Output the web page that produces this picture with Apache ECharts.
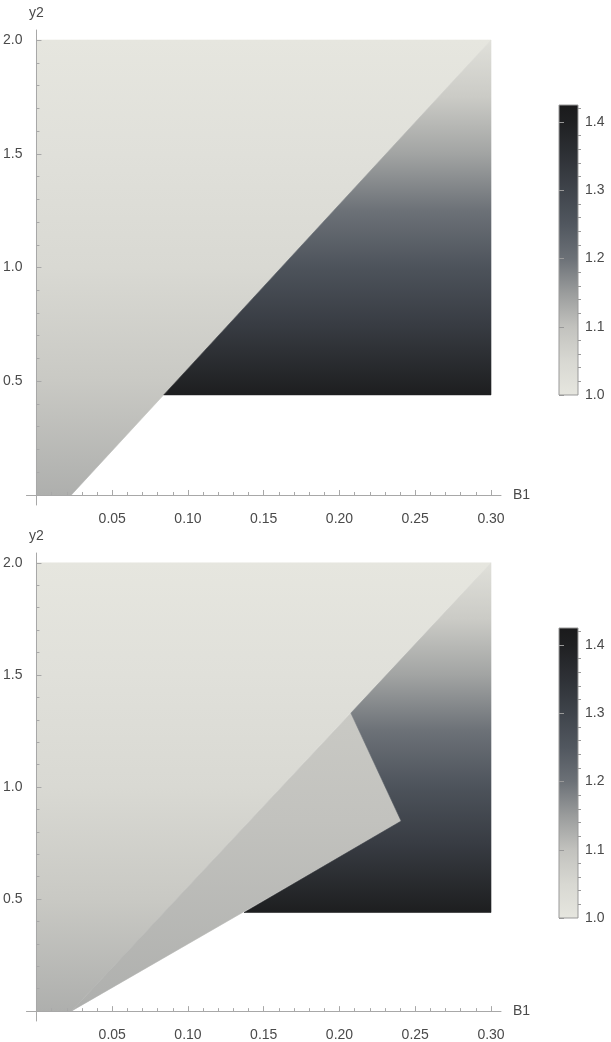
<!DOCTYPE html>
<html><head><meta charset="utf-8">
<script src="https://cdn.jsdelivr.net/npm/echarts@6/dist/echarts.min.js"></script>
<style>html,body{margin:0;padding:0;background:#fff}#c{width:611px;height:1042px}</style>
</head><body><div id="c"></div>
<script>
// ---------- data ----------
const xLabelValues = [0.05, 0.10, 0.15, 0.20, 0.25, 0.30];
const xMinorTicks = [0.01,0.02,0.03,0.04,0.06,0.07,0.08,0.09,0.11,0.12,0.13,0.14,0.16,0.17,0.18,0.19,0.21,0.22,0.23,0.24,0.26,0.27,0.28,0.29];
const yLabelValues = [0.5, 1.0, 1.5, 2.0];
const yMinorTicks = [0.1,0.2,0.3,0.4,0.6,0.7,0.8,0.9,1.1,1.2,1.3,1.4,1.6,1.7,1.8,1.9];
const barLabelValues = [1.0, 1.1, 1.2, 1.3, 1.4];
const barMinorTicks = [1.02,1.04,1.06,1.08,1.12,1.14,1.16,1.18,1.22,1.24,1.26,1.28,1.32,1.34,1.36,1.38,1.42];
const barRange = [1.0, 1.425];

// region polygons (B1, y2)
const leftPoly  = [[0,0],[0.023,0],[0.3,2.0],[0,2.0]];
const darkPolyA = [[0.084,0.44],[0.3,0.44],[0.3,2.0]];
const notchPoly = [[0.023,0],[0.2075,1.33],[0.2407,0.848]];
const darkPolyB = [[0.137,0.44],[0.3,0.44],[0.3,2.0],[0.2075,1.33],[0.2407,0.848]];

// value profiles along y2: [y2, value]
const leftProfile  = [[2.0,1.00],[1.5,1.02],[1.0,1.045],[0.5,1.085],[0.0,1.125]];
const darkProfile  = [[2.0,1.02],[1.75,1.08],[1.5,1.14],[1.25,1.20],[1.0,1.26],[0.75,1.32],[0.44,1.41]];
const notchProfile = [[1.33,1.085],[0.85,1.10],[0.0,1.125]];

// colour scale (value -> colour)
const cmapValues = [1.00, 1.05, 1.10, 1.15, 1.20, 1.25, 1.30, 1.35, 1.40, 1.425];
const cmapColors = ['#e6e6df','#d8d8d2','#c2c2be','#9a9c9c','#6c7177','#51575f','#3f444b','#2e3136','#1f2022','#1a1a1b'];

// ---------- helpers ----------
function hex2rgb(h){return [1,3,5].map(i=>parseInt(h.substr(i,2),16));}
function valueToColor(v){
  if(v<=cmapValues[0]) return cmapColors[0];
  for(let i=1;i<cmapValues.length;i++){
    if(v<=cmapValues[i]){
      const t=(v-cmapValues[i-1])/(cmapValues[i]-cmapValues[i-1]);
      const a=hex2rgb(cmapColors[i-1]), b=hex2rgb(cmapColors[i]);
      const c=a.map((x,k)=>Math.round(x+(b[k]-x)*t));
      return 'rgb('+c.join(',')+')';
    }
  }
  return cmapColors[cmapColors.length-1];
}
const FONT = 'Liberation Sans';
const FS = 14;
const AX = '#a8a8a8';
const LBL = '#4a4a4a';

function regionSeries(xi, yi, regions){
  return {
    type:'custom', xAxisIndex:xi, yAxisIndex:yi, silent:true, clip:false, z:2,
    data: regions.map((r,i)=>[r.poly[0][0], r.poly[0][1], i]),
    renderItem:(params, api)=>{
      const r = regions[params.dataIndex];
      const pts = r.poly.map(p=>api.coord(p));
      const yTop = api.coord([0, r.profile[0][0]])[1];
      const yBot = api.coord([0, r.profile[r.profile.length-1][0]])[1];
      const stops = r.profile.map(([yy,v])=>({offset:(api.coord([0,yy])[1]-yTop)/(yBot-yTop), color:valueToColor(v)}));
      const grad = {type:'linear', x:0, y:yTop, x2:0, y2:yBot, global:true, colorStops:stops};
      return {type:'polygon', shape:{points:pts}, style:{fill:grad, stroke:grad, lineWidth:0.6}};
    }
  };
}
function barSeries(xi, yi){
  return {
    type:'custom', xAxisIndex:xi, yAxisIndex:yi, silent:true, clip:false,
    data:[[0, barRange[0]]],
    renderItem:(params, api)=>{
      const p0 = api.coord([0, barRange[0]]), p1 = api.coord([1, barRange[1]]);
      return {type:'rect', shape:{x:p0[0], y:p1[1], width:p1[0]-p0[0], height:p0[1]-p1[1]},
        style:{fill:{type:'linear',x:0,y:1,x2:0,y2:0,colorStops:cmapValues.map(v=>({offset:(Math.min(v,barRange[1])-barRange[0])/(barRange[1]-barRange[0]),color:valueToColor(v)}))}, stroke:'#999', lineWidth:1}};
    }
  };
}

const XMIN=-0.0066, XMAX=0.3066, YMIN=-0.044, YMAX=2.044;
function plotX(grid, major){
  return {
    type:'value', gridIndex:grid, min:XMIN, max:XMAX, position:'bottom', z:5,
    axisLine:{show:true, onZero:true, lineStyle:{color: major?AX:'transparent', width:1}},
    axisTick:{show:true, inside:true, length: major?5:3, customValues: major?xLabelValues:xMinorTicks, lineStyle:{color:AX}},
    axisLabel: major ? {show:true, customValues:xLabelValues, formatter:v=>v.toFixed(2), margin:7, color:LBL, fontSize:FS, fontFamily:FONT} : {show:false},
    splitLine:{show:false},
    name: major?'B1':'', nameLocation:'end', nameGap:12,
    nameTextStyle:{color:LBL, fontSize:FS, fontFamily:FONT}
  };
}
function plotY(grid, major){
  return {
    type:'value', gridIndex:grid, min:YMIN, max:YMAX, position:'left', z:5,
    axisLine:{show:true, onZero:true, lineStyle:{color: major?AX:'transparent', width:1}},
    axisTick:{show:true, inside:true, length: major?5:3, customValues: major?yLabelValues:yMinorTicks, lineStyle:{color:AX}},
    axisLabel: major ? {show:true, customValues:yLabelValues, formatter:v=>v.toFixed(1), margin:4, color:LBL, fontSize:FS, fontFamily:FONT} : {show:false},
    splitLine:{show:false},
    name: major?'y2':'', nameLocation:'end', nameGap:10,
    nameTextStyle:{color:LBL, fontSize:FS, fontFamily:FONT}
  };
}
function barX(grid){
  return {type:'value', gridIndex:grid, min:0, max:1, show:false};
}
function barY(grid, major){
  return {
    type:'value', gridIndex:grid, min:barRange[0], max:barRange[1], position:'right', z:5,
    axisLine:{show:false},
    axisTick:{show:true, inside:false, length: major?5:3, customValues: major?barLabelValues:barMinorTicks, lineStyle:{color:'#999'}},
    axisLabel: major ? {show:true, customValues:barLabelValues, formatter:v=>v.toFixed(1), margin:7, color:LBL, fontSize:FS, fontFamily:FONT} : {show:false},
    splitLine:{show:false}
  };
}

const option = {
  animation:false,
  backgroundColor:'#fff',
  grid:[
    {left:26, top:30, width:475, height:475},
    {left:26, top:553, width:475, height:475},
    {left:559, top:105, width:19, height:290},
    {left:559, top:628, width:19, height:290}
  ],
  xAxis:[plotX(0,true), plotX(0,false), plotX(1,true), plotX(1,false), barX(2), barX(3)],
  yAxis:[plotY(0,true), plotY(0,false), plotY(1,true), plotY(1,false), barY(2,true), barY(2,false), barY(3,true), barY(3,false)],
  series:[
    regionSeries(0,0,[{poly:leftPoly, profile:leftProfile},{poly:darkPolyA, profile:darkProfile}]),
    regionSeries(2,2,[{poly:leftPoly, profile:leftProfile},{poly:notchPoly, profile:notchProfile},{poly:darkPolyB, profile:darkProfile}]),
    barSeries(4,4),
    barSeries(5,6)
  ]
};
const chart = echarts.init(document.getElementById('c'), null, {renderer:'canvas'});
chart.setOption(option);
</script>
</body></html>
